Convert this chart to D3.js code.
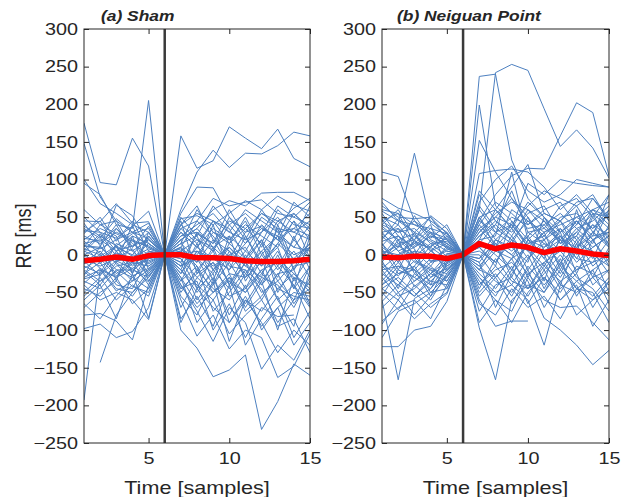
<!DOCTYPE html>
<html>
<head>
<meta charset="utf-8">
<script src="https://cdn.jsdelivr.net/npm/d3@7"></script>
<style>
  body { margin: 0; background: #fff; }
  text { font-family: 'Liberation Sans', Arial, Helvetica, sans-serif; fill: #262626; }
</style>
</head>
<body>
<div id="container"></div>
<script>
// time axis (samples) and ticks
const timeSteps = [1, 2, 3, 4, 5, 6, 7, 8, 9, 10, 11, 12, 13, 14, 15];
const xTicks = [5, 10, 15];
const yTicks = [-250, -200, -150, -100, -50, 0, 50, 100, 150, 200, 250, 300];
const eventSample = 6;
const panelTitles = ['(a) Sham', '(b) Neiguan Point'];

// individual RR traces, Sham
const shamTrials = [
  [175, 96, 93, 155, 118, 0, 158, 115, 125, 170, 155, 141, 167, 128, 117],
  [148, 77, 45, 30, 42, 0, 60, 110, 139, 116, 135, 134, 145, 163, 158],
  [100, 68, 55, 40, 30, 0, 55, 90, 89, 50, 30, 55, 40, 62, 75],
  [95, 80, 40, 35, 205, 0, 20, 35, 60, 72, 65, 82, 83, 83, 72],
  [45, 44, 68, 42, 44, 0, 48, 52, 40, 55, 72, 60, 78, 66, 58],
  [32, 30, 22, 38, 58, 0, 35, 45, 75, 65, 70, 73, 55, 50, 40],
  [12, 10, 66, 52, 15, 0, 25, 40, 55, 30, 60, 45, 30, 35, 55],
  [-193, -20, -30, -18, -5, 0, 40, 20, 10, -10, 15, 35, 25, 10, 5],
  [null, -143, -80, -50, -30, 0, -20, -40, -60, -30, -50, -20, -10, -30, -40],
  [-98, -92, -110, -102, -70, 0, -100, -124, -162, -153, -133, -232, -195, -145, -160],
  [-80, -78, -88, -113, -40, 0, -60, -108, -80, -125, -100, -110, -163, -148, -105],
  [-60, -40, -85, -25, -84, 0, -40, -75, -115, -70, -90, -152, -120, -140, -100],
  [-45, -55, -30, -65, -45, 0, -30, -90, -60, -105, -80, -60, -95, -85, -130],
  [-30, -20, -48, -35, -20, 0, -85, -55, -95, -40, -120, -85, -55, -110, -75],
  [-20, -35, -15, -10, -40, 0, -10, -60, -30, -80, -40, -100, -70, -50, -55],
  [-10, 5, -20, -30, -10, 0, -50, -20, -45, -60, -25, -45, -90, -60, -45],
  [5, -5, 10, -15, 5, 0, -5, -30, -10, -35, -65, -30, -40, -70, -30],
  [15, 20, 5, 12, 20, 0, 10, -10, 20, -15, -20, -60, -25, -20, -65],
  [25, 15, 30, 20, 10, 0, 15, 25, -20, 10, -10, 20, -50, -15, -10],
  [38, 25, 12, 28, 35, 0, 30, 10, 35, 20, 40, 25, 10, 45, 20],
  [-5, -15, -5, 8, -25, 0, 5, 20, 5, 40, 15, 50, 35, 30, 45],
  [0, 10, -8, -5, 15, 0, -15, 0, 30, 15, 50, 10, 45, 55, 30],
  [-15, -25, 15, 5, -15, 0, 20, -45, 0, -20, 5, -15, 15, -5, 15],
  [20, 35, 25, -25, 25, 0, -25, 15, -35, 25, -35, 0, -30, 25, -20],
  [-25, -10, -40, -45, -5, 0, 25, 30, 15, 45, 35, 15, 60, 40, 35],
  [-35, -45, -20, -20, -30, 0, -35, -15, -75, -50, -20, -40, -15, -40, -85],
  [8, 0, 35, 15, 0, 0, 10, 45, 25, -5, 30, 38, 20, 0, 10],
  [-50, -30, -60, -40, -55, 0, -15, -5, -25, -90, -60, -75, -45, -25, -50],
  [30, 45, 10, 0, 25, 0, 40, 55, 45, 35, -5, 30, 50, 20, 65],
  [-2, -8, 2, -4, 8, 0, -30, -65, -40, -10, -45, -5, -60, -95, -20],
  [12, 8, 20, 30, 10, 0, 0, 5, -15, 0, 10, -25, 5, -35, 0],
  [-12, 0, -25, -10, -15, 0, -45, -35, -100, -65, -110, -70, -82, -80, null],
  [-40, -60, -50, -60, -86, 0, -20, -50, -20, -45, -10, -50, -35, -60, -15],
  [60, 40, 28, 18, 12, 0, -10, 28, 15, 60, 25, -10, 15, 45, -5],
  [-70, -50, -35, -55, -25, 0, -70, -30, -50, -25, -70, -35, -100, -30, -68],
  [3, 25, -35, 25, -35, 0, 45, -25, 10, -40, 0, -40, 0, -45, 25],
  [-8, -28, 5, -25, 30, 0, -55, -80, -35, -115, -60, -90, -130, -100, -120],
  [18, 2, -10, 40, -20, 0, 15, 60, 30, 20, 45, 0, 25, 70, 50],
  [-28, 12, -12, -35, 4, 0, 5, -10, 40, -25, -30, 15, -20, 5, -30],
  [42, 12, 40, 5, 20, 0, -35, 5, -5, 10, -15, -30, 40, -10, 15],
  [22, 18, 35, 10, 30, 0, 20, 35, 10, 25, 5, 40, 20, 35, 25],
  [-18, -5, -28, -12, -8, 0, -25, 5, -20, 0, -25, 5, -35, -10, 10],
  [6, 28, -2, 20, -12, 0, 35, 15, 45, 30, 20, 60, 30, 10, 40],
  [-22, -40, -10, -28, -18, 0, -40, -70, -50, -30, -75, -55, -25, -65, -35],
  [35, 22, 48, 30, 22, 0, 10, -20, 5, -40, -10, -35, -5, -25, -45],
  [-38, -18, -45, -50, -22, 0, 15, -5, -40, 5, -30, -10, 10, -45, -15],
  [14, -12, 12, -2, -28, 0, -20, 30, 5, 50, 20, 30, 65, 50, 70],
  [28, 50, 18, 45, 5, 0, 50, 25, 65, 40, 55, 35, 20, 55, 35],
  [-55, -35, -22, -42, -50, 0, -45, -25, -10, -55, -45, -20, -60, -40, -70],
  [2, -18, -30, 0, -5, 0, -5, -45, -25, 15, -5, 20, -15, 20, -5],
  [-32, -26, -8, -18, -36, 0, 30, 10, -5, -20, 25, -15, 35, -20, 10],
  [50, 30, 5, 25, 15, 0, -15, 10, 45, 15, 35, 55, 45, 30, 20],
  [-65, -85, -55, -30, -45, 0, -90, -45, -70, -90, -55, -95, -70, -120, -90],
  [10, 40, 45, 10, 38, 0, 8, -15, -50, -35, -50, -25, -45, -55, -60],
  [-12, -2, 12, -22, -2, 0, 40, 65, 20, 5, -15, 5, 25, -20, 30]
];
const shamMean = [-8, -6, -3, -6, -1, 0, 0, -4, -4, -5, -8, -9, -9, -8, -6];

// individual RR traces, Neiguan point
const neiguanTrials = [
  [60, 55, 40, 35, 15, 0, 237, 240, 126, 75, 50, 30, 45, 20, 35],
  [40, 30, 45, 20, 10, 0, 60, 242, 253, 245, 194, 144, 166, 142, 102],
  [110, 104, 45, 30, 22, 0, 199, 65, 45, 20, 40, 15, 30, 10, 25],
  [75, 62, 55, 45, 30, 0, 152, 110, 75, 50, 20, 35, 15, 40, 10],
  [50, 40, 135, 42, 25, 0, 108, 112, 114, 110, 90, 60, 80, 55, 50],
  [65, 50, 48, 50, 28, 0, 45, 80, 105, 115, 114, 158, 202, 189, 105],
  [30, 35, 20, 52, 35, 0, 70, 100, 118, 85, 70, 80, 100, 95, 90],
  [20, 48, 30, 18, 5, 0, 50, 60, 90, 120, 55, 45, 70, 75, 50],
  [55, 25, 10, 25, 20, 0, 30, 50, 40, 65, 85, 75, 65, 80, 45],
  [-5, 10, 25, 5, -10, 0, 20, 25, 110, 20, 10, 25, 5, 50, 20],
  [10, -5, 5, -15, 12, 0, 65, 35, 20, 5, -20, 10, 35, 15, 60],
  [-20, -15, -30, -10, -5, 0, 15, 5, -5, 30, 35, 20, 10, 25, 80],
  [-40, -25, -20, -35, -15, 0, -20, 20, 10, -10, 50, 15, 25, -5, 40],
  [-60, -166, -58, -45, -20, 0, 10, 15, 0, -25, -10, 5, -20, 0, -15],
  [-122, -122, -100, -95, -62, 0, -97, -166, -60, -40, -50, -20, -45, -30, -55],
  [-88, -70, -60, -85, -40, 0, -60, -95, -88, -88, null, null, null, null, null],
  [-110, -75, -65, -50, -45, 0, -30, -50, -40, -60, -120, -40, -50, -30, -20],
  [-50, -73, -40, -60, -25, 0, -40, -20, -10, -35, -84, -100, -120, -146, -127],
  [-30, -55, -45, -25, -35, 0, -90, -60, -75, -30, -60, -70, -68, -90, -113],
  [-15, -35, -55, -30, -10, 0, -75, -40, -30, -55, -20, -60, -40, -95, -60],
  [0, 15, -10, -20, -30, 0, -50, -25, -55, -15, -40, -15, -35, -55, -30],
  [25, 5, 15, 10, -5, 0, -25, -45, -15, -65, -30, -50, -15, -25, -40],
  [35, 20, 0, 30, 8, 0, -10, -70, -25, 0, -45, -5, -55, -20, -5],
  [45, 30, 35, 15, 18, 0, 5, -10, 25, -5, 15, -10, 10, 30, 15],
  [15, -20, 20, 40, -20, 0, 35, 10, 60, 45, 25, 50, 55, 35, 55],
  [-10, 20, -25, -5, 5, 0, 25, 45, 30, 55, 65, 30, 50, 60, 40],
  [5, 0, 10, 25, 15, 0, 40, 70, 55, 35, 40, 55, 35, 45, 65],
  [-25, -40, -15, -50, -28, 0, -5, 30, 15, 50, 5, 20, -10, 10, 25],
  [-35, -10, -35, -20, -45, 0, 10, -15, 45, 10, 30, -20, 20, -15, 5],
  [-70, -50, -80, -55, -30, 0, -15, -35, -50, -20, -70, -35, -80, -60, -45],
  [40, 60, 25, 10, 30, 0, 50, 20, 5, 25, -5, 35, 0, 20, -10],
  [-45, -30, -50, -70, -52, 0, -45, -5, -35, -45, -10, -45, -25, -70, -35],
  [12, 35, -5, -25, 0, 0, 30, 55, 70, 60, 45, 15, 45, 25, 30],
  [-8, -45, 5, 0, -15, 0, -35, -60, -90, -50, -25, 0, -30, -45, -75],
  [28, 10, 52, 22, 40, 0, 18, 0, -20, 15, 20, 45, 5, 55, 12],
  [-55, -20, -30, -45, -10, 0, -65, -80, -45, -70, -55, -85, -45, -50, -90],
  [70, 45, 30, 50, 20, 0, 85, 60, 35, 95, 80, 100, 95, 92, 90],
  [-92, -60, -85, -65, -50, 0, 15, 40, 85, 30, 15, 5, 25, 60, 70],
  [8, -25, -15, 12, 22, 0, -20, 5, 15, -30, 5, -25, 15, 5, -25],
  [18, 25, 8, -40, 2, 0, 45, 30, 50, 40, 60, 70, 40, 75, 45],
  [-18, 0, 18, 8, -22, 0, 0, -30, -5, 10, -35, 25, -5, -10, 20],
  [48, 15, 20, -8, -5, 0, -40, -15, -40, -5, 20, -15, 60, 0, -50],
  [22, 40, 12, 30, 10, 0, 25, 40, 20, 45, 30, 40, 50, 35, 60],
  [-12, -28, -8, -18, -25, 0, -15, 10, -20, 20, -5, -30, 5, -40, -20],
  [38, 20, 28, 5, 25, 0, 60, 30, 40, 10, -15, 20, 45, 20, 30],
  [-28, -5, -42, -25, -8, 0, 40, 15, 0, 25, 45, 25, -5, 30, 10],
  [2, 12, -2, 15, -2, 0, -10, 20, 40, 15, 25, 5, 30, 55, 35],
  [-45, -60, -25, -40, -30, 0, -30, -55, -20, -45, -30, -60, -35, -20, -65],
  [58, 45, 40, 28, 12, 0, 20, 60, 35, 70, 50, 20, 40, 60, 50],
  [-62, -40, -55, -35, -40, 0, 50, 10, 35, 5, 30, 45, 20, 40, 25],
  [15, -10, 30, -10, 8, 0, -20, -30, -5, -45, -15, -35, -20, -10, 0],
  [-2, 25, 0, -30, -18, 0, 35, 50, 75, 40, 55, 45, 65, 30, 55],
  [30, 5, -20, 5, 15, 0, -5, 15, -30, 20, 0, -40, 15, -30, 10],
  [-20, -50, -35, -15, -35, 0, -55, -30, -65, -25, -50, -10, -45, -60, -35],
  [45, 55, 15, 35, 28, 0, 80, 45, 25, 60, 35, 65, 75, 50, 80],
  [-40, -15, -20, -55, -12, 0, 10, -10, 20, -20, 10, 30, -25, 20, -15]
];
const neiguanMean = [-3, -4, -2, -2, -5, 0, 15, 8, 13, 10, 3, 8, 5, 1, -1];

const w = 622;
const h = 497;
const plotTop = 29;
const plotBottom = 443;
const stretch = 1.2;
const traceColor = '#4d80c0';

const svg = d3
  .select('#container')
  .append('svg')
  .attr('width', w)
  .attr('height', h);

const panels = [
  { left: 84, right: 310, trials: shamTrials, mean: shamMean, title: panelTitles[0], titleX: 101 },
  { left: 382, right: 609, trials: neiguanTrials, mean: neiguanMean, title: panelTitles[1], titleX: 397 }
];

const yScale = d3.scaleLinear().domain([-250, 300]).range([plotBottom, plotTop]);

panels.forEach((p, pi) => {
  const xScale = d3.scaleLinear().domain([1, 15]).range([p.left, p.right]);
  const g = svg.append('g');

  const clipId = 'clip' + pi;
  svg.append('clipPath').attr('id', clipId)
    .append('rect')
    .attr('x', p.left).attr('y', plotTop)
    .attr('width', p.right - p.left).attr('height', plotBottom - plotTop);

  const line = d3.line()
    .defined(d => d != null)
    .x((d, i) => xScale(timeSteps[i]))
    .y(d => yScale(d));

  const plot = g.append('g').attr('clip-path', `url(#${clipId})`);

  plot.selectAll('.trial')
    .data(p.trials)
    .enter()
    .append('path')
    .attr('class', 'trial')
    .attr('d', line)
    .attr('fill', 'none')
    .attr('stroke', traceColor)
    .attr('stroke-width', 1)
    .attr('stroke-linejoin', 'round');

  plot.append('path')
    .attr('d', line(p.mean))
    .attr('fill', 'none')
    .attr('stroke', '#ff0000')
    .attr('stroke-width', 5.5)
    .attr('stroke-linejoin', 'round');

  plot.append('line')
    .attr('x1', xScale(eventSample)).attr('x2', xScale(eventSample))
    .attr('y1', plotTop).attr('y2', plotBottom)
    .attr('stroke', '#3a3a3a')
    .attr('stroke-width', 2.5);

  // axes, ticks pointing inward on all four sides
  const yAxis = d3.axisLeft(yScale).tickValues(yTicks).tickSizeInner(-5).tickSizeOuter(0).tickPadding(5);
  const yAxisR = d3.axisRight(yScale).tickValues(yTicks).tickSizeInner(-5).tickSizeOuter(0).tickFormat('');
  const xAxis = d3.axisBottom(xScale).tickValues(xTicks).tickSizeInner(-5).tickSizeOuter(0).tickPadding(9);
  const xAxisT = d3.axisTop(xScale).tickValues(xTicks).tickSizeInner(-5).tickSizeOuter(0).tickFormat('');

  const ay = g.append('g').attr('transform', `translate(${p.left},0)`).call(yAxis);
  const ayr = g.append('g').attr('transform', `translate(${p.right},0)`).call(yAxisR);
  const ax = g.append('g').attr('transform', `translate(0,${plotBottom})`).call(xAxis);
  const axt = g.append('g').attr('transform', `translate(0,${plotTop})`).call(xAxisT);

  [ay, ayr, ax, axt].forEach(a => {
    a.select('.domain').remove();
    a.selectAll('line').attr('stroke', '#262626');
    a.selectAll('text')
      .attr('font-size', 16.5)
      .attr('font-family', "'Liberation Sans', Arial, sans-serif")
      .attr('fill', '#262626')
      .attr('transform', `scale(${stretch},1)`);
  });
  ay.selectAll('text').attr('x', -6 / stretch);

  g.append('rect')
    .attr('x', p.left).attr('y', plotTop)
    .attr('width', p.right - p.left).attr('height', plotBottom - plotTop)
    .attr('fill', 'none')
    .attr('stroke', '#262626')
    .attr('stroke-width', 1);

  g.append('text')
    .attr('transform', `translate(${p.titleX},21) scale(${stretch},1)`)
    .attr('font-size', 14.5)
    .attr('font-weight', 'bold')
    .attr('font-style', 'italic')
    .attr('fill', '#000')
    .text(p.title);

  g.append('text')
    .attr('transform', `translate(${(p.left + p.right) / 2},494) scale(${stretch},1)`)
    .attr('text-anchor', 'middle')
    .attr('font-size', 18)
    .text('Time [samples]');
});

svg.append('text')
  .attr('transform', `translate(31,${(plotTop + plotBottom) / 2}) scale(${stretch},1) rotate(-90)`)
  .attr('text-anchor', 'middle')
  .attr('font-size', 18)
  .text('RR [ms]');
</script>
</body>
</html>
